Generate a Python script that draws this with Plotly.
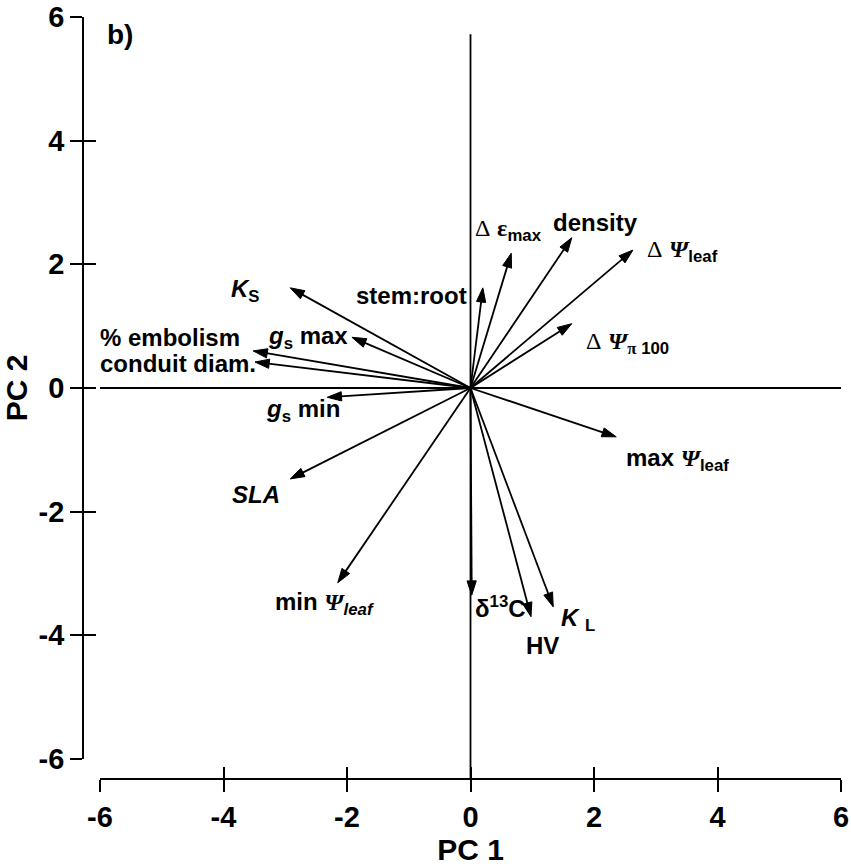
import plotly.graph_objects as go

# ---- data ----
var_names = ["KS", "stem:root", "% embolism", "conduit diam.", "gs max", "gs min", "SLA",
             "min Psi leaf", "d13C", "HV", "KL", "max Psi leaf", "dPsi pi100", "dPsi leaf",
             "density", "d eps max"]
pc1 = [-2.92, 0.20, -3.52, -3.49, -1.92, -2.32, -2.92, -2.15, 0.02, 0.98, 1.34, 2.36, 1.64, 2.63, 1.64, 0.66]
pc2 = [1.62, 1.62, 0.60, 0.42, 0.82, -0.15, -1.47, -3.15, -3.35, -3.70, -3.54, -0.79, 1.04, 2.23, 2.43, 2.18]

PSI = "<span style=\"font-family:'Liberation Serif'\"><i>Ψ</i></span>"
DEL = "<span style=\"font-family:'Liberation Serif';font-weight:normal\">Δ</span>"
EPS = "<span style=\"font-family:'Liberation Serif'\">ε</span>"
PI = "<span style=\"font-family:'Liberation Serif'\">π</span>"

label_text = [
    "<i>K</i><sub>S</sub>",
    "stem:root",
    "% embolism",
    "conduit diam.",
    "<i>g</i><sub>s</sub> max",
    "<i>g</i><sub>s</sub> min",
    "<i>SLA</i>",
    "min " + PSI + "<sub><i>leaf</i></sub>",
    "δ<sup>13</sup>C",
    "HV",
    "<i>K</i> <sub>L</sub>",
    "max " + PSI + "<sub>leaf</sub>",
    DEL + " " + PSI + "<sub>" + PI + " 100</sub>",
    DEL + " " + PSI + "<sub>leaf</sub>",
    "density",
    DEL + " " + EPS + "<sub>max</sub>",
]
label_x = [-3.65, -0.96, -6.0, -6.0, -2.63, -2.71, -3.47, -2.36, 0.49, 1.16, 1.74, 3.36, 2.55, 3.44, 2.02, 0.62]
label_y = [1.58, 1.50, 0.82, 0.39, 0.81, -0.36, -1.73, -3.48, -3.54, -4.16, -3.75, -1.16, 0.74, 2.22, 2.68, 2.57]
label_anchor = ["center", "center", "left", "left", "center", "center", "center", "center",
                "center", "center", "center", "center", "center", "center", "center", "center"]

tick_vals = [-6, -4, -2, 0, 2, 4, 6]
tick_text = ["-6", "-4", "-2", "0", "2", "4", "6"]
axis_range = [-6, 6]
vline_top = 5.72

# ---- layout geometry ----
W, H = 851, 868
ml, mr, mt, mb = 83, 10, 17, 89
pw = W - ml - mr
ph = H - mt - mb
xdom = [17 / pw, 1.0]
ydom = [20 / ph, 1.0]

FONT = "Liberation Sans"
tickfont = dict(family=FONT, size=29, color="black", weight="bold")
bold_ticks = ["<b>" + t + "</b>" for t in tick_text]

fig = go.Figure()

# loading arrows: line from origin to loading, arrowhead marker at tip
for name, xv, yv in zip(var_names, pc1, pc2):
    fig.add_trace(go.Scatter(
        x=[0, xv], y=[0, yv], mode="lines+markers", name=name,
        line=dict(color="black", width=1.8),
        marker=dict(symbol=["circle", "arrow"], size=[0, 15], angleref="previous",
                    color="black", opacity=1, line=dict(width=1, color="black")),
        showlegend=False, hoverinfo="skip", cliponaxis=False,
    ))

# dummy trace on overlay axes (to get crossing ticks)
fig.add_trace(go.Scatter(x=[None], y=[None], xaxis="x2", yaxis="y2", showlegend=False, hoverinfo="skip"))

common = dict(range=axis_range, tickvals=tick_vals, ticktext=bold_ticks, showgrid=False, zeroline=False,
              showline=True, linecolor="black", linewidth=1.8, tickwidth=1.8, ticklen=12,
              tickcolor="black", fixedrange=True)

fig.update_layout(
    width=W, height=H,
    margin=dict(l=ml, r=mr, t=mt, b=mb, autoexpand=False),
    paper_bgcolor="white", plot_bgcolor="white",
    font=dict(family=FONT, color="black"),
    showlegend=False,
    xaxis=dict(common, domain=xdom, anchor="free", position=0.0, ticks="outside",
               tickfont=tickfont, automargin=False,
               title=dict(text="<b>PC 1</b>", font=dict(family=FONT, size=30, weight="bold"), standoff=5)),
    yaxis=dict(common, domain=ydom, anchor="free", position=0.0, ticks="outside",
               tickfont=tickfont, automargin=False,
               title=dict(text="<b>PC 2</b>", font=dict(family=FONT, size=30, weight="bold"), standoff=5)),
    xaxis2=dict(common, domain=xdom, anchor="free", position=0.0, overlaying="x", ticks="inside",
                showticklabels=False, showline=False),
    yaxis2=dict(common, domain=ydom, anchor="free", position=0.0, overlaying="y", ticks="inside",
                showticklabels=False, showline=False),
)

# reference lines through the origin
ytop_paper = ydom[0] + (vline_top - axis_range[0]) / (axis_range[1] - axis_range[0]) * (ydom[1] - ydom[0])
fig.add_shape(type="line", xref="x", yref="paper", x0=0, x1=0, y0=0, y1=ytop_paper,
              line=dict(color="black", width=1.8), layer="below")
fig.add_shape(type="line", xref="x", yref="y", x0=axis_range[0], x1=axis_range[1], y0=0, y1=0,
              line=dict(color="black", width=1.8), layer="below")

# labels
for t, xv, yv, anc in zip(label_text, label_x, label_y, label_anchor):
    fig.add_annotation(x=xv, y=yv, xref="x", yref="y", text="<b>" + t + "</b>", showarrow=False,
                       xanchor=anc, yanchor="middle", xshift=-2 if anc == "left" else 0,
                       font=dict(family=FONT, size=24, color="black", weight="bold"))

# panel letter
fig.add_annotation(x=-5.68, y=5.72, xref="x", yref="y", text="<b>b)</b>", showarrow=False,
                   font=dict(family=FONT, size=28, color="black", weight="bold"))

fig.write_html("out.html")
